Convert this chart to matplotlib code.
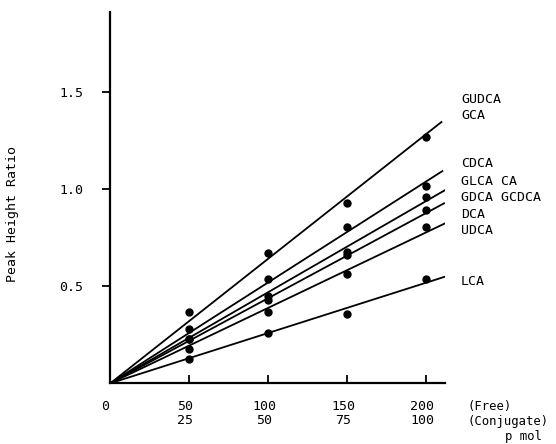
import matplotlib
matplotlib.use("Agg")
import matplotlib.pyplot as plt
import matplotlib.transforms as mtransforms

# ---- data ----
amounts_free = [50, 100, 150, 200]
amounts_conj = [25, 50, 75, 100]

gudca_gca = [0.367, 0.668, 0.926, 1.266]
cdca      = [0.278, 0.535, 0.806, 1.015]
glca_ca   = [0.230, 0.448, 0.677, 0.957]
gdca      = [0.230, 0.431, 0.660, 0.892]
udca      = [0.177, 0.368, 0.562, 0.806]
lca       = [0.127, 0.259, 0.359, 0.535]
series = [gudca_gca, cdca, glca_ca, gdca, udca, lca]

# regression lines through the origin: value at the line end
line_end_x = [210.0, 210.6, 213.8, 211.7, 212.4, 212.4]
line_end_y = [1.347, 1.094, 1.003, 0.928, 0.825, 0.550]

right_labels = ["GUDCA", "GCA", "CDCA", "GLCA CA", "GDCA GCDCA", "DCA", "UDCA", "LCA"]
right_label_y = [1.46, 1.38, 1.13, 1.04, 0.955, 0.87, 0.785, 0.525]

yticks = [0.5, 1.0, 1.5]
ytick_labels = ["0.5", "1.0", "1.5"]

W, H = 556, 444
FONT = "DejaVu Sans Mono"
FS = 9.5

fig = plt.figure(figsize=(W / 100, H / 100), dpi=100)
ax = fig.add_axes([110.3 / W, (H - 383.3) / H, (445 - 110.3) / W, (383.3 - 12) / H])

for pts, ex, ey in zip(series, line_end_x, line_end_y):
    ax.plot([0, ex], [0, ey], color="black", lw=1.3, solid_capstyle="butt")
    ax.plot(amounts_free, pts, "o", color="black", ms=5)

ax.set_xlim(0, 211.8)
ax.set_ylim(0, 1.91)
for s in ["top", "right"]:
    ax.spines[s].set_visible(False)
ax.spines["left"].set_linewidth(1.6)
ax.spines["bottom"].set_linewidth(1.6)

ax.set_yticks(yticks)
ax.set_yticklabels(ytick_labels, fontfamily=FONT, fontsize=FS)
ax.tick_params(axis="y", direction="out", length=6, width=1.3, pad=13.5)

xlabels = [f"{a}\n{b}" for a, b in zip(amounts_free, amounts_conj)]
ax.set_xticks(amounts_free)
ax.set_xticklabels(xlabels, fontfamily=FONT, fontsize=FS, linespacing=1.15)
ax.tick_params(axis="x", direction="in", length=6, width=1.3, pad=12)
offset = mtransforms.ScaledTranslation(-4 / 100, 0, fig.dpi_scale_trans)
for lab in ax.get_xticklabels():
    lab.set_transform(lab.get_transform() + offset)

ax.text(-3, -0.12, "0", transform=ax.transData, ha="center", va="center",
        fontfamily=FONT, fontsize=FS, clip_on=False)

ax.set_ylabel("Peak Height Ratio", fontfamily=FONT, fontsize=FS)
ax.yaxis.set_label_coords((19 - 110.3) / 334.7, (383.3 - 214) / 371.3)

for lab, y in zip(right_labels, right_label_y):
    ax.text(222, y, lab, ha="left", va="center", fontfamily=FONT, fontsize=FS,
            clip_on=False)

FS2 = 8.8
fig.text(467 / W, 1 - 406 / H, "(Free)", ha="left", va="center",
         fontfamily=FONT, fontsize=FS2)
fig.text(467 / W, 1 - 421 / H, "(Conjugate)", ha="left", va="center",
         fontfamily=FONT, fontsize=FS2)
fig.text(505 / W, 1 - 436 / H, "p mol", ha="left", va="center",
         fontfamily=FONT, fontsize=FS2)

fig.savefig("out.png", dpi=100)
